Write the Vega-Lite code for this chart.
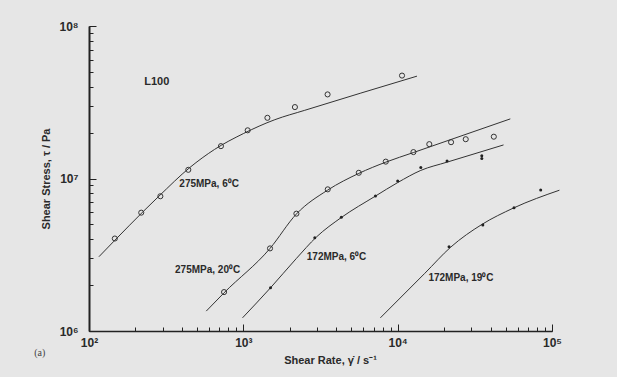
{
  "$schema": "https://vega.github.io/schema/vega-lite/v6.json",
  "autosize": {"type": "none"},
  "padding": {"left": 89, "top": 26, "right": 65, "bottom": 46},
  "width": 463,
  "height": 305,
  "background": "#e6e6e6",
  "config": {"view": {"stroke": null}},
  "resolve": {"axis": {"x": "independent", "y": "independent"}},
  "datasets": {
    "curves": [
      {"series": "s1", "i": 1, "rate": 116, "stress": 3070000},
      {"series": "s1", "i": 2, "rate": 284, "stress": 7660000},
      {"series": "s1", "i": 3, "rate": 450, "stress": 11800000},
      {"series": "s1", "i": 4, "rate": 650, "stress": 15500000},
      {"series": "s1", "i": 5, "rate": 1000, "stress": 19700000},
      {"series": "s1", "i": 6, "rate": 1600, "stress": 24300000},
      {"series": "s1", "i": 7, "rate": 2500, "stress": 28000000},
      {"series": "s1", "i": 8, "rate": 13340, "stress": 46900000},
      {"series": "s2", "i": 1, "rate": 575, "stress": 1350000},
      {"series": "s2", "i": 2, "rate": 750, "stress": 1780000},
      {"series": "s2", "i": 3, "rate": 1489, "stress": 3480000},
      {"series": "s2", "i": 4, "rate": 2207, "stress": 5850000},
      {"series": "s2", "i": 5, "rate": 3524, "stress": 8400000},
      {"series": "s2", "i": 6, "rate": 5598, "stress": 10800000},
      {"series": "s2", "i": 7, "rate": 8375, "stress": 12800000},
      {"series": "s2", "i": 8, "rate": 12650, "stress": 14800000},
      {"series": "s2", "i": 9, "rate": 53700, "stress": 24600000},
      {"series": "s3", "i": 1, "rate": 988, "stress": 1220000},
      {"series": "s3", "i": 2, "rate": 1500, "stress": 1920000},
      {"series": "s3", "i": 3, "rate": 2200, "stress": 2980000},
      {"series": "s3", "i": 4, "rate": 2980, "stress": 4140000},
      {"series": "s3", "i": 5, "rate": 4315, "stress": 5550000},
      {"series": "s3", "i": 6, "rate": 7180, "stress": 7670000},
      {"series": "s3", "i": 7, "rate": 10000, "stress": 9400000},
      {"series": "s3", "i": 8, "rate": 14120, "stress": 11300000},
      {"series": "s3", "i": 9, "rate": 20890, "stress": 12800000},
      {"series": "s3", "i": 10, "rate": 48530, "stress": 16600000},
      {"series": "s4", "i": 1, "rate": 7727, "stress": 1220000},
      {"series": "s4", "i": 2, "rate": 15000, "stress": 2390000},
      {"series": "s4", "i": 3, "rate": 22080, "stress": 3550000},
      {"series": "s4", "i": 4, "rate": 35160, "stress": 5000000},
      {"series": "s4", "i": 5, "rate": 56230, "stress": 6400000},
      {"series": "s4", "i": 6, "rate": 111700, "stress": 8380000}
    ],
    "open": [
      {"series": "275MPa, 6°C", "rate": 147, "stress": 4040000},
      {"series": "275MPa, 6°C", "rate": 218, "stress": 5970000},
      {"series": "275MPa, 6°C", "rate": 290, "stress": 7650000},
      {"series": "275MPa, 6°C", "rate": 440, "stress": 11400000},
      {"series": "275MPa, 6°C", "rate": 716, "stress": 16300000},
      {"series": "275MPa, 6°C", "rate": 1067, "stress": 20700000},
      {"series": "275MPa, 6°C", "rate": 1432, "stress": 25000000},
      {"series": "275MPa, 6°C", "rate": 2159, "stress": 29400000},
      {"series": "275MPa, 6°C", "rate": 3515, "stress": 35600000},
      {"series": "275MPa, 6°C", "rate": 10670, "stress": 47300000},
      {"series": "275MPa, 20°C", "rate": 750, "stress": 1800000},
      {"series": "275MPa, 20°C", "rate": 1489, "stress": 3480000},
      {"series": "275MPa, 20°C", "rate": 2207, "stress": 5880000},
      {"series": "275MPa, 20°C", "rate": 3524, "stress": 8490000},
      {"series": "275MPa, 20°C", "rate": 5598, "stress": 10900000},
      {"series": "275MPa, 20°C", "rate": 8375, "stress": 12900000},
      {"series": "275MPa, 20°C", "rate": 12650, "stress": 14900000},
      {"series": "275MPa, 20°C", "rate": 16030, "stress": 16800000},
      {"series": "275MPa, 20°C", "rate": 22180, "stress": 17300000},
      {"series": "275MPa, 20°C", "rate": 27610, "stress": 18100000},
      {"series": "275MPa, 20°C", "rate": 41980, "stress": 18800000}
    ],
    "filled": [
      {"series": "172MPa, 6°C", "rate": 1500, "stress": 1920000},
      {"series": "172MPa, 6°C", "rate": 2904, "stress": 4090000},
      {"series": "172MPa, 6°C", "rate": 4315, "stress": 5570000},
      {"series": "172MPa, 6°C", "rate": 7180, "stress": 7670000},
      {"series": "172MPa, 6°C", "rate": 10000, "stress": 9640000},
      {"series": "172MPa, 6°C", "rate": 14120, "stress": 11800000},
      {"series": "172MPa, 6°C", "rate": 20890, "stress": 13000000},
      {"series": "172MPa, 6°C", "rate": 35080, "stress": 14100000},
      {"series": "172MPa, 6°C", "rate": 35080, "stress": 13500000},
      {"series": "172MPa, 19°C", "rate": 21520, "stress": 3570000},
      {"series": "172MPa, 19°C", "rate": 35620, "stress": 4950000},
      {"series": "172MPa, 19°C", "rate": 56750, "stress": 6440000},
      {"series": "172MPa, 19°C", "rate": 84500, "stress": 8410000}
    ],
    "labels": [
      {"text": "275MPa, 6⁰C", "rate": 385, "stress": 9210000},
      {"text": "275MPa, 20⁰C", "rate": 361, "stress": 2510000},
      {"text": "172MPa, 6⁰C", "rate": 2576, "stress": 3070000},
      {"text": "172MPa, 19⁰C", "rate": 15820, "stress": 2240000}
    ],
    "tag": [
      {"text": "L100", "rate": 274.6, "stress": 43200000}
    ],
    "panel": [
      {"text": "(a)", "rate": 48, "stress": 718000}
    ]
  },
  "encoding": {
    "x": {"field": "rate", "type": "quantitative", "scale": {"type": "log", "domain": [100, 100000], "nice": false}, "axis": null},
    "y": {"field": "stress", "type": "quantitative", "scale": {"type": "log", "domain": [1000000, 100000000], "nice": false}, "axis": null}
  },
  "layer": [
    {
      "mark": {"type": "rect", "color": "white"},
      "encoding": {
        "x": {"datum": 30.3, "type": "quantitative", "axis": {"orient": "bottom", "values": [100, 1000, 10000, 100000], "labels": false, "domain": false, "grid": false, "title": null, "tickSize": -7, "tickColor": "#222222", "tickWidth": 1}},
        "x2": {"datum": 241500},
        "y": {"datum": 139300000, "type": "quantitative", "axis": {"orient": "left", "values": [1000000, 10000000, 100000000], "labels": false, "domain": false, "grid": false, "title": null, "tickSize": -7, "tickColor": "#222222", "tickWidth": 1}},
        "y2": {"datum": 547000}
      }
    },
    {
      "data": {"name": "curves"},
      "mark": {"type": "line", "color": "#333333", "strokeWidth": 1, "interpolate": "monotone"},
      "encoding": {
        "x": {
          "field": "rate", "type": "quantitative",
          "axis": {
            "orient": "bottom",
            "values": [100, 200, 300, 400, 500, 600, 700, 800, 900, 1000, 2000, 3000, 4000, 5000, 6000, 7000, 8000, 9000, 10000, 20000, 30000, 40000, 50000, 60000, 70000, 80000, 90000, 100000],
            "labelExpr": "datum.value==100?'10²':datum.value==1000?'10³':datum.value==10000?'10⁴':datum.value==100000?'10⁵':''",
            "title": "Shear Rate, γ̇ / s⁻¹",
            "grid": false,
            "domainColor": "#222222", "domainWidth": 1.6,
            "tickColor": "#222222", "tickWidth": 1, "tickSize": -4,
            "labelFont": "Liberation Sans", "labelFontWeight": "bold", "labelFontSize": 12, "labelColor": "#2a2a2a",
            "labelPadding": 10, "labelOverlap": false, "labelFlush": false,
            "titleFont": "Liberation Sans", "titleFontWeight": "bold", "titleFontSize": 11, "titleColor": "#2a2a2a",
            "titlePadding": 6, "titleX": 241
          }
        },
        "y": {
          "field": "stress", "type": "quantitative",
          "axis": {
            "orient": "left",
            "values": [1000000, 2000000, 3000000, 4000000, 5000000, 6000000, 7000000, 8000000, 9000000, 10000000, 20000000, 30000000, 40000000, 50000000, 60000000, 70000000, 80000000, 90000000, 100000000],
            "labelExpr": "datum.value==1000000?'10⁶':datum.value==10000000?'10⁷':datum.value==100000000?'10⁸':''",
            "title": "Shear Stress, τ / Pa",
            "grid": false,
            "domainColor": "#222222", "domainWidth": 2,
            "tickColor": "#222222", "tickWidth": 1, "tickSize": -4,
            "labelFont": "Liberation Sans", "labelFontWeight": "bold", "labelFontSize": 12, "labelColor": "#2a2a2a",
            "labelPadding": 15, "labelOverlap": false, "labelFlush": false,
            "titleFont": "Liberation Sans", "titleFontWeight": "bold", "titleFontSize": 11, "titleColor": "#2a2a2a",
            "titleBaseline": "middle", "titleX": -43
          }
        },
        "detail": {"field": "series"},
        "order": {"field": "i", "type": "quantitative"}
      }
    },
    {
      "data": {"name": "open"},
      "mark": {"type": "point", "filled": false, "color": "#333333", "size": 26, "strokeWidth": 1, "opacity": 1},
      "encoding": {}
    },
    {
      "data": {"name": "filled"},
      "mark": {"type": "point", "filled": true, "color": "#222222", "size": 9, "opacity": 1},
      "encoding": {}
    },
    {
      "data": {"name": "labels"},
      "mark": {"type": "text", "align": "left", "baseline": "middle", "font": "Liberation Sans", "fontWeight": "bold", "fontSize": 10, "color": "#2a2a2a"},
      "encoding": {"text": {"field": "text"}}
    },
    {
      "data": {"name": "tag"},
      "mark": {"type": "text", "align": "center", "baseline": "middle", "font": "Liberation Sans", "fontWeight": "bold", "fontSize": 11, "color": "#2a2a2a"},
      "encoding": {"text": {"field": "text"}}
    },
    {
      "data": {"name": "panel"},
      "mark": {"type": "text", "align": "center", "baseline": "middle", "font": "Liberation Serif", "fontSize": 10, "color": "#444444"},
      "encoding": {"text": {"field": "text"}}
    }
  ]
}
